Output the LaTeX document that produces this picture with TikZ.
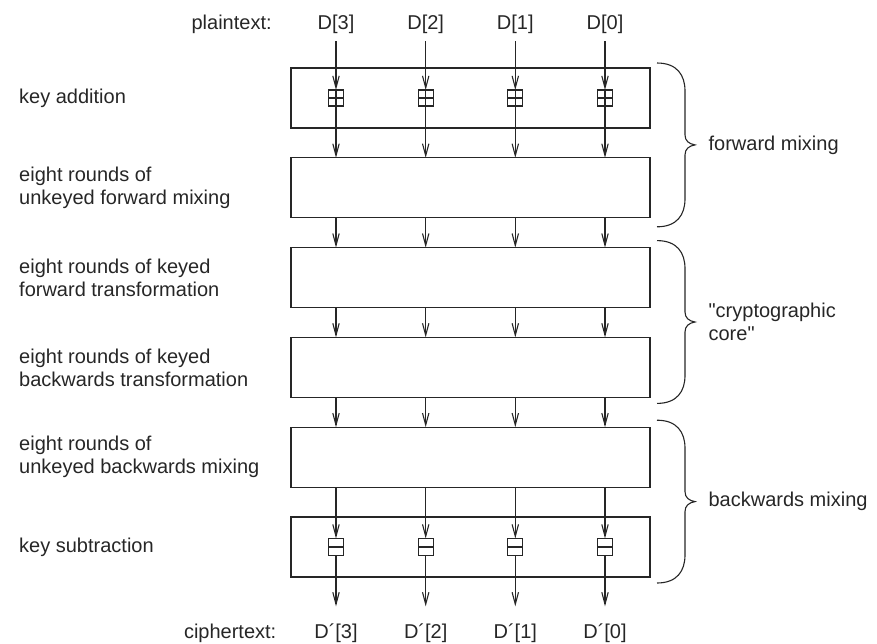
\documentclass[tikz,border=0pt]{standalone}
\usepackage{fontspec}
\setmainfont{Liberation Sans}[Ligatures=TeXOff]
\usepackage{tikz}
\usetikzlibrary{positioning, arrows.meta, calc}

\begin{document}
\begin{tikzpicture}[
  x=0.5pt, y=-0.5pt, font=\fontsize{10}{11.5}\selectfont, color=black!85,
  >={Straight Barb[length=6pt, width=3.2pt]}, line width=0.55pt,
  box/.style={draw, minimum width=179.5pt, minimum height=30pt, inner sep=0pt, outer sep=0pt},
  lbl/.style={align=left},
  plusbox/.style={draw, minimum width=7.5pt, minimum height=8pt, inner sep=0pt, outer sep=0pt,
    path picture={\draw (path picture bounding box.north) -- (path picture bounding box.south)
      (path picture bounding box.west) -- (path picture bounding box.east);}},
  minusbox/.style={draw, minimum width=7.5pt, minimum height=8.5pt, inner sep=0pt, outer sep=0pt,
    path picture={\draw[line width=1.2pt] (path picture bounding box.west) -- (path picture bounding box.east);}},
  curly/.style={to path={
    let \p1=(\tikztostart), \p2=(\tikztotarget), \p3=($(\p1)!0.5!(\p2)$) in
    (\p1) .. controls +(20,0) and +(0,-16) .. ($(\p1)+(28,28)$)
    -- ($(\p3)+(28,-10)$) .. controls +(0,6) and +(-6,-1) .. ($(\p3)+(38,0)$) \tikztonodes
    .. controls +(-6,1) and +(0,-6) .. ($(\p3)+(28,10)$)
    -- ($(\p2)+(28,-28)$) .. controls +(0,16) and +(20,0) .. (\p2)}}]
\useasboundingbox (0,0) rectangle (877,643);

% the six stages
\node[box] (kadd) at (470.5,98) {};
\node[box, below=14.9pt of kadd]  (fmix)  {};
\node[box, below=14.9pt of fmix]  (fcore) {};
\node[box, below=14.9pt of fcore] (bcore) {};
\node[box, below=14.9pt of bcore] (bmix)  {};
\node[box, below=14.9pt of bmix]  (ksub)  {};

\node[lbl, anchor=west] (lkadd)  at (12,0 |- kadd)  {key addition};
\node[lbl, anchor=west] (lfmix)  at (12,0 |- fmix)  {eight rounds of\\unkeyed forward mixing};
\node[lbl, anchor=west] (lfcore) at (12,0 |- fcore) {eight rounds of keyed\\forward transformation};
\node[lbl, anchor=west] (lbcore) at (12,0 |- bcore) {eight rounds of keyed\\backwards transformation};
\node[lbl, anchor=west] (lbmix)  at (12,0 |- bmix)  {eight rounds of\\unkeyed backwards mixing};
\node[lbl, anchor=west] (lksub)  at (12,0 |- ksub)  {key subtraction};

% data words
\foreach \i/\x in {3/336, 2/425.7, 1/515.3, 0/605} {
  \node (t\i) at (\x,24.5) {D[\i]};
  \node[plusbox] (p\i) at (t\i |- kadd) {};
  \node[minusbox] (m\i) at (t\i |- ksub) {};
  \node (c\i) at (\x,633) {D´[\i]};
  \draw[->] (t\i) -- (p\i);
  \draw[->] (p\i) -- (p\i |- fmix.north);
  \draw[->] (p\i |- fmix.south) -- (p\i |- fcore.north);
  \draw[->] (p\i |- fcore.south) -- (p\i |- bcore.north);
  \draw[->] (p\i |- bcore.south) -- (p\i |- bmix.north);
  \draw[->] (p\i |- bmix.south) -- (m\i);
  \draw[->, shorten >=5pt] (m\i) -- (c\i);
}
\node[base left=15.8pt of t3] (ptxt) {plaintext:};
\node[base left=11.8pt of c3] (ctxt) {ciphertext:};

% braces
\coordinate (fm1) at ([shift={(7,-5)}]kadd.north east);
\coordinate (fm2) at ([shift={(7,9)}]fmix.south east);
\coordinate (cc1) at ([shift={(7,-7)}]fcore.north east);
\coordinate (cc2) at ([shift={(7,6)}]bcore.south east);
\coordinate (bm1) at ([shift={(7,-7)}]bmix.north east);
\coordinate (bm2) at ([shift={(7,6)}]ksub.south east);
\draw[curly] (fm1) to node[pos=1, lbl, anchor=west, xshift=3.2pt] (lfwd) {forward mixing} (fm2);
\draw[curly] (cc1) to node[pos=1, lbl, anchor=west, xshift=3.2pt] (lcore) {"cryptographic\\core"} (cc2);
\draw[curly] (bm1) to node[pos=1, lbl, anchor=west, xshift=3.2pt] (lbwd) {backwards mixing} (bm2);
\end{tikzpicture}
\end{document}
